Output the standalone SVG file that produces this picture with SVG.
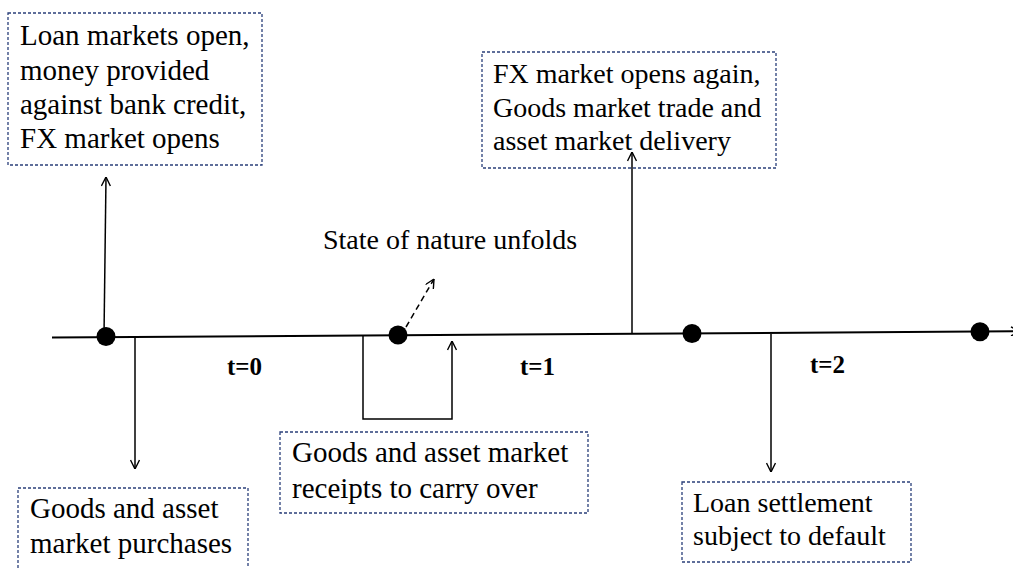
<svg xmlns="http://www.w3.org/2000/svg" width="1013" height="568" viewBox="0 0 1013 568">
<style>
.box{fill:none;stroke:#2a3f7a;stroke-width:1.3;stroke-dasharray:3 2}
.t{font-family:"Liberation Serif","Times New Roman",serif;font-size:29px;fill:#000}
.s{font-size:28px}
.tl{font-family:"Liberation Serif","Times New Roman",serif;font-size:25px;font-weight:bold;fill:#000}
.c{fill:none;stroke:#000;stroke-width:1.5}
.dot{fill:#000}
</style>
<defs>
<marker id="ah" viewBox="0 0 10 10" refX="10" refY="5" markerWidth="10" markerHeight="10" markerUnits="userSpaceOnUse" orient="auto">
<path d="M1,0.5 L10,5 L1,9.5" fill="none" stroke="#000" stroke-width="1.4"/>
</marker>
</defs>
<g id="timeline">
<line x1="52" y1="337.5" x2="1020" y2="331.3" stroke="#000" stroke-width="2" marker-end="url(#ah)"/>
<circle class="dot" cx="106" cy="336.5" r="9.5"/>
<circle class="dot" cx="398" cy="335" r="9.5"/>
<circle class="dot" cx="692" cy="333.5" r="9.5"/>
<circle class="dot" cx="980" cy="331.7" r="9.5"/>
<text class="tl" x="227" y="375">t=0</text>
<text class="tl" x="520" y="375">t=1</text>
<text class="tl" x="810" y="373">t=2</text>
</g>
<g id="connectors">
<line class="c" x1="104" y1="336" x2="106" y2="177" marker-end="url(#ah)"/>
<line class="c" x1="135" y1="337" x2="135" y2="469" marker-end="url(#ah)"/>
<polyline class="c" points="363,336 363,419 452,419 452,341" marker-end="url(#ah)"/>
<line class="c" x1="406" y1="327" x2="434" y2="279" stroke-dasharray="6 4" marker-end="url(#ah)"/>
<line class="c" x1="632" y1="334" x2="632" y2="152" marker-end="url(#ah)"/>
<line class="c" x1="771" y1="334" x2="771" y2="472" marker-end="url(#ah)"/>
</g>
<g id="n-loan-open">
<rect class="box" x="8" y="13" width="254" height="152"/>
<text class="t" x="20" y="45">Loan markets open,</text>
<text class="t" x="20" y="80">money provided</text>
<text class="t" x="20" y="114">against bank credit,</text>
<text class="t" x="20" y="148">FX market opens</text>
</g>
<g id="n-fx-again">
<rect class="box" x="482" y="52" width="294" height="116"/>
<text class="t s" x="493" y="83">FX market opens again,</text>
<text class="t s" x="493" y="117">Goods market trade and</text>
<text class="t s" x="493" y="150">asset market delivery</text>
</g>
<g id="n-state">
<text class="t s" x="323" y="249">State of nature unfolds</text>
</g>
<g id="n-purchases">
<rect class="box" x="18" y="488" width="230" height="90"/>
<text class="t" x="30" y="518">Goods and asset</text>
<text class="t" x="30" y="553">market purchases</text>
</g>
<g id="n-receipts">
<rect class="box" x="280" y="432" width="308" height="81"/>
<text class="t" x="292" y="462">Goods and asset market</text>
<text class="t" x="292" y="498">receipts to carry over</text>
</g>
<g id="n-settlement">
<rect class="box" x="682" y="482" width="229" height="80"/>
<text class="t s" x="693" y="512">Loan settlement</text>
<text class="t s" x="693" y="545">subject to default</text>
</g>
</svg>
